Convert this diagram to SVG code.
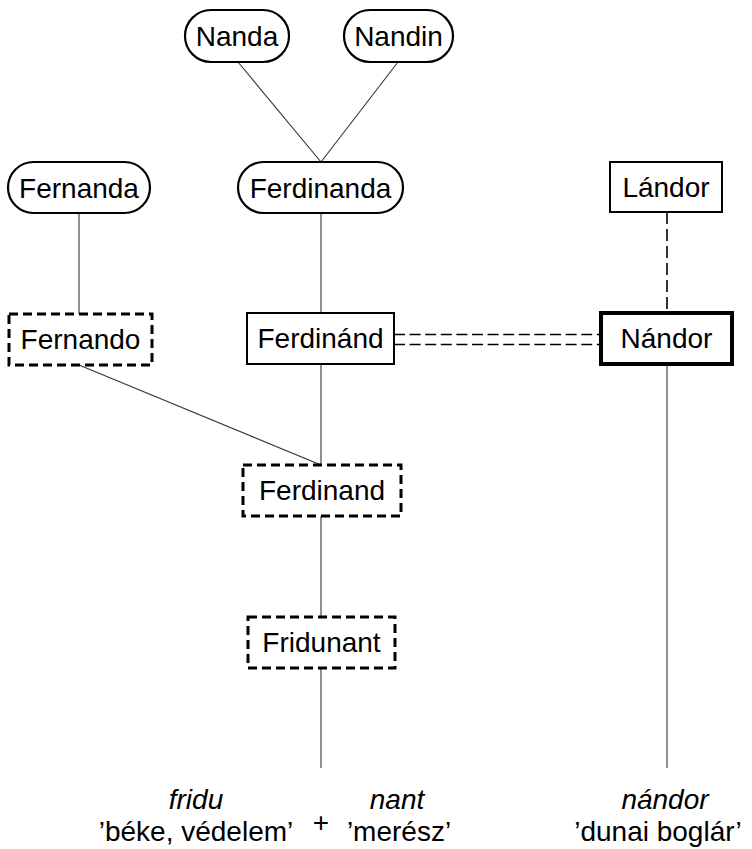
<svg xmlns="http://www.w3.org/2000/svg" width="752" height="849" viewBox="0 0 752 849">
<style>
.t{font-family:"Liberation Sans",Arial,sans-serif;font-size:28px;fill:#000;text-anchor:middle}
.i{font-style:italic}
.pill{fill:#fff;stroke:#000;stroke-width:2.2}
.box{fill:#fff;stroke:#000;stroke-width:2}
.dbox{fill:#fff;stroke:#000;stroke-width:3;stroke-dasharray:9 5}
.thick{fill:#fff;stroke:#000;stroke-width:4}
.ln{stroke:#333;stroke-width:1.1;fill:none}
.dl{stroke:#000;stroke-width:1.6;fill:none;stroke-dasharray:12 5}
.dd{stroke:#000;stroke-width:1.6;fill:none;stroke-dasharray:11 4.6}
</style>
<rect width="752" height="849" fill="#fff"/>
<g id="connectors">
<line class="ln" x1="238" y1="62" x2="321" y2="162"/>
<line class="ln" x1="398" y1="62" x2="321" y2="162"/>
<line class="ln" x1="79" y1="213" x2="79" y2="314"/>
<line class="ln" x1="321" y1="213" x2="321" y2="313"/>
<line class="ln" x1="321" y1="364" x2="321" y2="465"/>
<line class="ln" x1="79" y1="365" x2="321" y2="465"/>
<line class="ln" x1="321" y1="516" x2="321" y2="617"/>
<line class="ln" x1="321" y1="668" x2="321" y2="768"/>
<line class="ln" x1="667" y1="364" x2="667" y2="768"/>
<line class="dl" x1="667" y1="212" x2="667" y2="312"/>
<line class="dd" x1="394" y1="334.5" x2="600" y2="334.5"/>
<line class="dd" x1="394" y1="344.5" x2="600" y2="344.5"/>
</g>
<g id="nanda"><rect class="pill" x="185" y="10" width="104" height="52" rx="26"/><text class="t" x="237" y="46">Nanda</text></g>
<g id="nandin"><rect class="pill" x="344" y="10" width="109" height="52" rx="26"/><text class="t" x="398.5" y="46">Nandin</text></g>
<g id="fernanda"><rect class="pill" x="8" y="162" width="142" height="51" rx="25.5"/><text class="t" x="79" y="197.5">Fernanda</text></g>
<g id="ferdinanda"><rect class="pill" x="238" y="162" width="165" height="51" rx="25.5"/><text class="t" x="320.5" y="197.5">Ferdinanda</text></g>
<g id="landor"><rect class="box" x="610" y="162" width="112" height="50"/><text class="t" x="666" y="197">Lándor</text></g>
<g id="fernando"><rect class="dbox" x="9" y="314" width="143" height="51"/><text class="t" x="80.5" y="349">Fernando</text></g>
<g id="ferdinand-hu"><rect class="box" x="247" y="313" width="147" height="51"/><text class="t" x="320.5" y="348">Ferdinánd</text></g>
<g id="nandor"><rect class="thick" x="601" y="313" width="131" height="51"/><text class="t" x="666.5" y="348">Nándor</text></g>
<g id="ferdinand"><rect class="dbox" x="243" y="465" width="158" height="51"/><text class="t" x="322" y="500">Ferdinand</text></g>
<g id="fridunant"><rect class="dbox" x="248" y="617" width="147" height="51"/><text class="t" x="321.5" y="652">Fridunant</text></g>
<g id="etymology">
<text class="t i" x="196" y="809">fridu</text>
<text class="t" x="196" y="841">’béke, védelem’</text>
<text class="t" x="321" y="832">+</text>
<text class="t i" x="397" y="809">nant</text>
<text class="t" x="399" y="841">’merész’</text>
<text class="t i" x="665" y="809">nándor</text>
<text class="t" x="658" y="841">’dunai boglár’</text>
</g>
</svg>
